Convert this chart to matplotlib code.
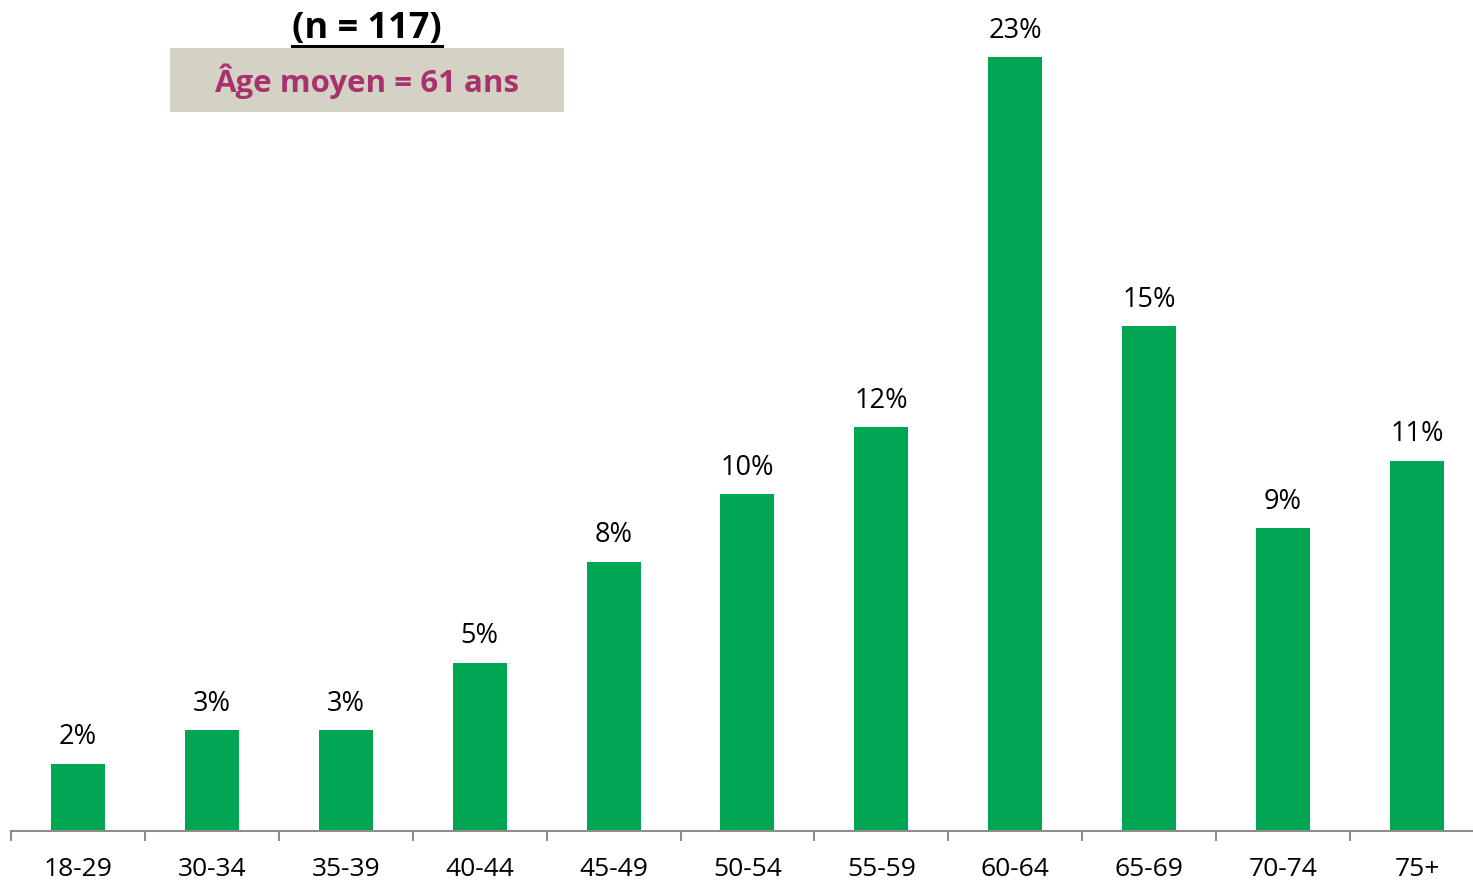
import matplotlib
matplotlib.use("Agg")
import matplotlib.pyplot as plt
from matplotlib.patches import Rectangle
from matplotlib.lines import Line2D

categories = ["18-29", "30-34", "35-39", "40-44", "45-49", "50-54",
              "55-59", "60-64", "65-69", "70-74", "75+"]
values = [2, 3, 3, 5, 8, 10, 12, 23, 15, 9, 11]
title_text = "(n = 117)"
box_text = "Âge moyen = 61 ans"

W, H = 1473, 881
plt.rcParams['font.family'] = ['Open Sans', 'DejaVu Sans']
fig = plt.figure(figsize=(W / 100, H / 100), dpi=100)
step = 133.9
ax = fig.add_axes([11 / W, 1 - 831 / H, 11 * step / W, 831 / H])

x = list(range(len(categories)))
ax.bar(x, values, width=54 / step, color="#00A651", zorder=2)
ax.set_xlim(-0.5, len(categories) - 0.5)
ax.set_ylim(0, 23 * 831 / 774)

for xi, v in zip(x, values):
    ax.annotate(f"{v}%", (xi, v), xytext=(0, 9), textcoords="offset points",
                ha="center", va="bottom", fontsize=19.5, color="black")

for s in ["top", "right", "left"]:
    ax.spines[s].set_visible(False)
ax.spines["bottom"].set_color("#8C8C8C")
ax.spines["bottom"].set_linewidth(1.5)
ax.set_yticks([])
ax.set_xticks([i - 0.5 for i in range(len(categories) + 1)], minor=False)
ax.set_xticklabels([])
ax.tick_params(axis="x", which="major", length=7, width=1.5, color="#8C8C8C", direction="out")
ax.set_xticks(x, minor=True)
ax.set_xticklabels(categories, minor=True, fontsize=19)
ax.tick_params(axis="x", which="minor", length=0, pad=18.5)

# Box with mean age
fig.patches.append(Rectangle((170 / W, 1 - 112 / H), 394 / W, 64 / H,
                             transform=fig.transFigure, facecolor="#D4D2C4",
                             edgecolor="none", zorder=1))
fig.text(367 / W, 1 - 81 / H, box_text, ha="center", va="center",
         fontsize=22.5, fontweight="bold", color="#A8326E")

t = fig.text(367 / W, 1 - 29 / H, title_text, ha="center", va="center",
             fontsize=26, fontweight="bold", color="black")
fig.canvas.draw()
bb = t.get_window_extent(renderer=fig.canvas.get_renderer())
fig.lines.append(Line2D([bb.x0 / W, bb.x1 / W], [1 - 46 / H, 1 - 46 / H],
                        transform=fig.transFigure, color="black", linewidth=2.2))

fig.savefig("out.png", dpi=100)
